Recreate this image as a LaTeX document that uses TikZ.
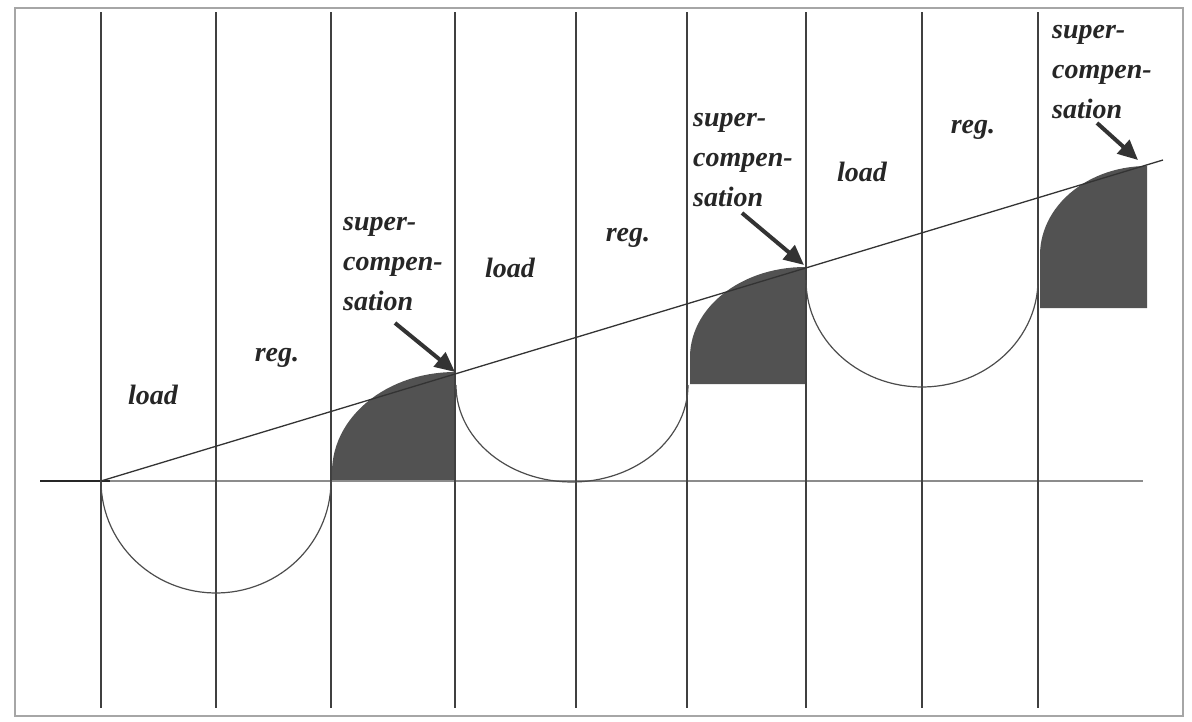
\documentclass[tikz,border=0pt]{standalone}
\usepackage{fontspec}
\setmainfont{Liberation Serif}
\usetikzlibrary{arrows.meta}
\begin{document}
\begin{tikzpicture}[x=1pt,y=-1pt,
  vline/.style={draw=black!75,line width=1.8pt},
  curve/.style={draw=black!70,line width=1.2pt},
  shadebox/.style={fill=black!68,draw=none},
  lbl/.style={font=\fontsize{28}{40}\selectfont\itshape\bfseries,inner sep=0pt,text=black!85,align=left},
  arr/.style={draw=black!80,line width=4pt,-{Triangle[length=20pt,width=18pt]}},
  framel/.style={draw=black!35,line width=2pt}
]
\useasboundingbox (0,0) rectangle (1192,721);
% frame
\draw[framel] (15,8) -- (15,716) -- (1183,716) -- (1183,8) -- cycle;
% shaded supercompensation areas
\fill[shadebox] (332,481) -- plot[domain=0:90,samples=30] ({455-123*cos(\x)},{472-100*sin(\x)}) -- (455,481) -- cycle;
\fill[shadebox] (690,384) -- plot[domain=0:90,samples=30] ({805-115*cos(\x)},{357-90*sin(\x)}) -- (805,384) -- cycle;
\fill[shadebox] (1040,308) -- plot[domain=0:90,samples=30] ({1147-107*cos(\x)},{255-89*sin(\x)}) -- (1147,308) -- cycle;
% baseline
\draw[draw=black!45,line width=1.5pt] (40,481) -- (1143,481);
\draw[draw=black!85,line width=1.8pt] (40,481) -- (110,481);
% vertical lines
\foreach \xx in {101,216,331,455,576,687,806,922,1038}
  \draw[vline] (\xx,12) -- (\xx,708);
% load curves
\draw[curve] plot[domain=0:180,samples=60] ({216+115*cos(\x)},{481+112*sin(\x)});
\draw[curve] plot[domain=0:180,samples=60] ({572+116*cos(\x)},{385+97*sin(\x)});
\draw[curve] plot[domain=0:180,samples=60] ({922+116*cos(\x)},{280+107*sin(\x)});
% trend line
\coordinate (o) at (101,481);
\coordinate (e) at (1163,160);
\draw[draw=black!80,line width=1.3pt] (o) -- (e);
% labels
\node[lbl] (load1) at (153,395) {load};
\node[lbl] (reg1) at (277,358) {reg.};
\node[lbl] (load2) at (510,268) {load};
\node[lbl] (reg2) at (628,238) {reg.};
\node[lbl] (load3) at (862,172) {load};
\node[lbl] (reg3) at (973,130) {reg.};
\node[lbl,anchor=west] (sc1) at (343,264) {super-\\compen-\\sation};
\node[lbl,anchor=west] (sc2) at (693,160) {super-\\compen-\\sation};
\node[lbl,anchor=west] (sc3) at (1052,72) {super-\\compen-\\sation};
% arrows
\coordinate (a1) at (395,323);
\coordinate (t1) at (455,372);
\coordinate (a2) at (742,213);
\coordinate (t2) at (804,265);
\coordinate (a3) at (1097,123);
\coordinate (t3) at (1138,160);
\draw[arr] (a1) -- (t1);
\draw[arr] (a2) -- (t2);
\draw[arr] (a3) -- (t3);
\end{tikzpicture}
\end{document}
